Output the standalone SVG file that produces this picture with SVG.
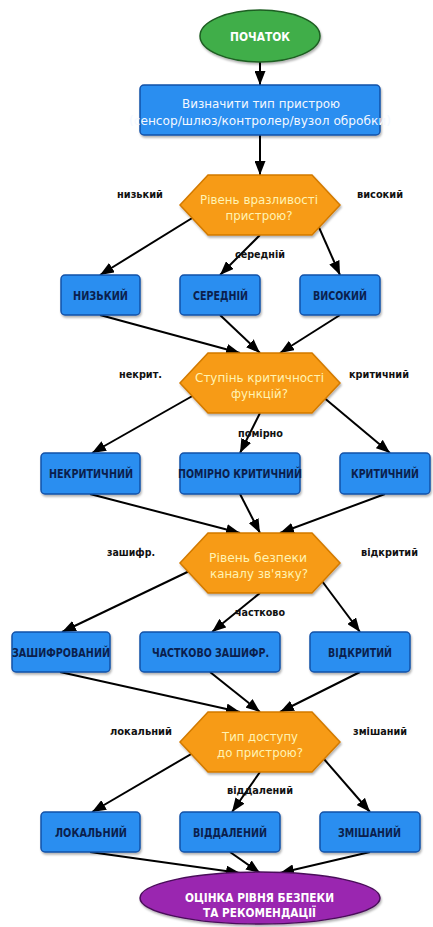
<svg xmlns="http://www.w3.org/2000/svg" width="433" height="927" viewBox="0 0 433 927">
<defs>
<marker id="ah" viewBox="0 0 14 11" refX="14" refY="5.5" markerWidth="14" markerHeight="11" markerUnits="userSpaceOnUse" orient="auto">
<path d="M0,0 L14,5.5 L0,11 z" fill="#000"/>
</marker>
<filter id="sh" x="-10%" y="-10%" width="130%" height="140%">
<feDropShadow dx="1" dy="2" stdDeviation="1.2" flood-color="#000" flood-opacity="0.3"/>
</filter>
</defs>
<style>
.box{fill:#2a8ef0;stroke:#1552a8;stroke-width:1.5;filter:url(#sh)}
.hex{fill:#f79b14;stroke:#d27a00;stroke-width:1.5;filter:url(#sh)}
.bt{font-family:"DejaVu Sans",sans-serif;font-size:12px;font-weight:bold;fill:#0b1f4d;text-anchor:middle}
.ht{font-family:"DejaVu Sans",sans-serif;font-size:12.5px;fill:#fff3b3;text-anchor:middle}
.dt{font-family:"DejaVu Sans",sans-serif;font-size:11.5px;fill:#f4f8ff;text-anchor:middle}
.lb{font-family:"DejaVu Sans",sans-serif;font-size:10.5px;font-weight:bold;fill:#111;text-anchor:middle}
.wt{font-family:"DejaVu Sans",sans-serif;font-size:13px;font-weight:bold;fill:#fff;text-anchor:middle}
.e{stroke:#000;stroke-width:2;fill:none;marker-end:url(#ah)}
</style>
<rect width="433" height="927" fill="#fff"/>
<g id="connectors">
<line class="e" x1="260" y1="62" x2="260" y2="85"/>
<line class="e" x1="260" y1="135" x2="260" y2="175"/>
<line class="e" x1="210" y1="207" x2="100" y2="275"/>
<line class="e" x1="260" y1="235" x2="220" y2="275"/>
<line class="e" x1="310" y1="207" x2="340" y2="275"/>
<line class="e" x1="100" y1="315" x2="240" y2="353"/>
<line class="e" x1="220" y1="315" x2="260" y2="353"/>
<line class="e" x1="340" y1="315" x2="280" y2="353"/>
<line class="e" x1="210" y1="386" x2="92" y2="453"/>
<line class="e" x1="260" y1="413" x2="240" y2="453"/>
<line class="e" x1="310" y1="386" x2="390" y2="453"/>
<line class="e" x1="90" y1="494" x2="240" y2="533"/>
<line class="e" x1="240" y1="494" x2="260" y2="533"/>
<line class="e" x1="385" y1="494" x2="280" y2="533"/>
<line class="e" x1="202" y1="565" x2="62" y2="632"/>
<line class="e" x1="260" y1="593" x2="212" y2="632"/>
<line class="e" x1="310" y1="565" x2="360" y2="632"/>
<line class="e" x1="60" y1="672" x2="240" y2="712"/>
<line class="e" x1="210" y1="672" x2="260" y2="712"/>
<line class="e" x1="360" y1="672" x2="280" y2="712"/>
<line class="e" x1="210" y1="743" x2="92" y2="812"/>
<line class="e" x1="260" y1="772" x2="232" y2="812"/>
<line class="e" x1="310" y1="743" x2="370" y2="812"/>
<line class="e" x1="90" y1="852" x2="240" y2="873"/>
<line class="e" x1="230" y1="852" x2="260" y2="873"/>
<line class="e" x1="370" y1="852" x2="280" y2="873"/>
<text class="lb" x="140" y="198" textLength="46" lengthAdjust="spacingAndGlyphs">низький</text>
<text class="lb" x="380" y="198" textLength="46" lengthAdjust="spacingAndGlyphs">високий</text>
<text class="lb" x="260" y="258" textLength="50" lengthAdjust="spacingAndGlyphs">середній</text>
<text class="lb" x="140.5" y="378" textLength="43" lengthAdjust="spacingAndGlyphs">некрит.</text>
<text class="lb" x="379" y="378" textLength="60" lengthAdjust="spacingAndGlyphs">критичний</text>
<text class="lb" x="260.5" y="437" textLength="45" lengthAdjust="spacingAndGlyphs">помірно</text>
<text class="lb" x="131" y="556" textLength="48" lengthAdjust="spacingAndGlyphs">зашифр.</text>
<text class="lb" x="389.5" y="556" textLength="57" lengthAdjust="spacingAndGlyphs">відкритий</text>
<text class="lb" x="260" y="616" textLength="50" lengthAdjust="spacingAndGlyphs">частково</text>
<text class="lb" x="141" y="735" textLength="62" lengthAdjust="spacingAndGlyphs">локальний</text>
<text class="lb" x="380" y="735" textLength="54" lengthAdjust="spacingAndGlyphs">змішаний</text>
<text class="lb" x="260" y="794" textLength="66" lengthAdjust="spacingAndGlyphs">віддалений</text>
</g>
<g id="start">
<ellipse cx="260" cy="36" rx="60" ry="26" fill="#3fae4a" stroke="#1f5e22" stroke-width="1.5" filter="url(#sh)"/>
<text class="wt" x="260" y="40.5" textLength="60" lengthAdjust="spacingAndGlyphs">ПОЧАТОК</text>
</g>
<g id="device_type">
<rect class="box" x="140" y="85" width="240" height="50" rx="4"/>
<text class="dt" x="261" y="108" textLength="158" lengthAdjust="spacingAndGlyphs">Визначити тип пристрою</text>
<text class="dt" x="260" y="125" textLength="262" lengthAdjust="spacingAndGlyphs">(сенсор/шлюз/контролер/вузол обробки)</text>
</g>
<g id="q_vuln">
<polygon class="hex" points="208,175 312,175 340,205 312,235 208,235 180,205"/>
<text class="ht" x="259" y="204" textLength="118" lengthAdjust="spacingAndGlyphs">Рівень вразливості</text>
<text class="ht" x="259" y="220" textLength="67" lengthAdjust="spacingAndGlyphs">пристрою?</text>
</g>
<g id="v_low"><rect class="box" x="61" y="275" width="79" height="40" rx="4"/><text class="bt" x="100.5" y="299.5" textLength="55" lengthAdjust="spacingAndGlyphs">НИЗЬКИЙ</text></g>
<g id="v_mid"><rect class="box" x="180" y="275" width="80" height="40" rx="4"/><text class="bt" x="220.5" y="299.5" textLength="55" lengthAdjust="spacingAndGlyphs">СЕРЕДНІЙ</text></g>
<g id="v_high"><rect class="box" x="300" y="275" width="80" height="40" rx="4"/><text class="bt" x="340" y="299.5" textLength="54" lengthAdjust="spacingAndGlyphs">ВИСОКИЙ</text></g>
<g id="q_crit">
<polygon class="hex" points="208,353 312,353 340,383 312,413 208,413 180,383"/>
<text class="ht" x="259.5" y="382" textLength="129" lengthAdjust="spacingAndGlyphs">Ступінь критичності</text>
<text class="ht" x="259.5" y="398" textLength="57" lengthAdjust="spacingAndGlyphs">функцій?</text>
</g>
<g id="c_non"><rect class="box" x="41" y="453" width="99" height="41" rx="4"/><text class="bt" x="91" y="477.5" textLength="84" lengthAdjust="spacingAndGlyphs">НЕКРИТИЧНИЙ</text></g>
<g id="c_mod"><rect class="box" x="180" y="453" width="120" height="41" rx="4"/><text class="bt" x="240" y="477.5" textLength="124" lengthAdjust="spacingAndGlyphs">ПОМІРНО КРИТИЧНИЙ</text></g>
<g id="c_crit"><rect class="box" x="340" y="453" width="90" height="41" rx="4"/><text class="bt" x="385" y="477.5" font-size="11.5" textLength="68" lengthAdjust="spacingAndGlyphs">КРИТИЧНИЙ</text></g>
<g id="q_channel">
<polygon class="hex" points="208,533 312,533 340,563 312,593 208,593 180,563"/>
<text class="ht" x="258" y="562" textLength="98" lengthAdjust="spacingAndGlyphs">Рівень безпеки</text>
<text class="ht" x="259" y="578" textLength="98" lengthAdjust="spacingAndGlyphs">каналу зв'язку?</text>
</g>
<g id="ch_enc"><rect class="box" x="12" y="632" width="98" height="40" rx="4"/><text class="bt" x="61" y="656.5" textLength="98" lengthAdjust="spacingAndGlyphs">ЗАШИФРОВАНИЙ</text></g>
<g id="ch_part"><rect class="box" x="140" y="632" width="140" height="40" rx="4"/><text class="bt" x="210.5" y="656.5" textLength="117" lengthAdjust="spacingAndGlyphs">ЧАСТКОВО ЗАШИФР.</text></g>
<g id="ch_open"><rect class="box" x="310" y="632" width="100" height="40" rx="4"/><text class="bt" x="360" y="656.5" textLength="64" lengthAdjust="spacingAndGlyphs">ВІДКРИТИЙ</text></g>
<g id="q_access">
<polygon class="hex" points="208,712 312,712 340,742 312,772 208,772 180,742"/>
<text class="ht" x="260" y="741" textLength="76" lengthAdjust="spacingAndGlyphs">Тип доступу</text>
<text class="ht" x="260" y="757" textLength="86" lengthAdjust="spacingAndGlyphs">до пристрою?</text>
</g>
<g id="a_local"><rect class="box" x="41" y="812" width="99" height="40" rx="4"/><text class="bt" x="91" y="836.5" textLength="72" lengthAdjust="spacingAndGlyphs">ЛОКАЛЬНИЙ</text></g>
<g id="a_remote"><rect class="box" x="180" y="812" width="100" height="40" rx="4"/><text class="bt" x="230" y="836.5" textLength="74" lengthAdjust="spacingAndGlyphs">ВІДДАЛЕНИЙ</text></g>
<g id="a_mixed"><rect class="box" x="320" y="812" width="100" height="40" rx="4"/><text class="bt" x="369.5" y="836.5" textLength="63" lengthAdjust="spacingAndGlyphs">ЗМІШАНИЙ</text></g>
<g id="end">
<ellipse cx="260" cy="898" rx="120" ry="26" fill="#9a27b0" stroke="#4a0f5a" stroke-width="1.5" filter="url(#sh)"/>
<text class="wt" x="259.5" y="902" textLength="149" lengthAdjust="spacingAndGlyphs">ОЦІНКА РІВНЯ БЕЗПЕКИ</text>
<text class="wt" x="259.5" y="916.5" textLength="113" lengthAdjust="spacingAndGlyphs">ТА РЕКОМЕНДАЦІЇ</text>
</g>
</svg>
